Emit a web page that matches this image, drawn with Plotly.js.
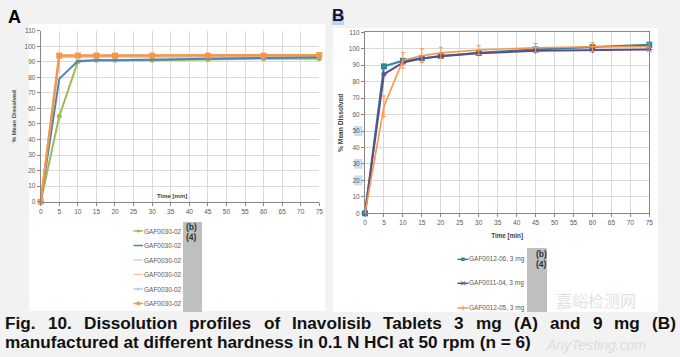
<!DOCTYPE html>
<html><head><meta charset="utf-8">
<script src="https://cdn.plot.ly/plotly-3.0.1.min.js"></script>
<style>html,body{margin:0;padding:0;background:#f2f2f2;}#chart{width:680px;height:357px;}</style>
</head><body><div id="chart"></div>
<script>
// ---------- data ----------
const timeMin = [0, 5, 10, 15, 20, 30, 45, 60, 75];
const xTickVals = [0,5,10,15,20,25,30,35,40,45,50,55,60,65,70,75];
const yTickVals = [0,10,20,30,40,50,60,70,80,90,100,110];

// Panel A (3 mg) – six lots, all labelled GAF0030-02
const namesA = ['GAF0030-02','GAF0030-02','GAF0030-02','GAF0030-02','GAF0030-02','GAF0030-02'];
const a1Green     = [0, 55, 90, 91, 91, 91, 91.5, 92, 92];
const a2Blue      = [0, 79, 90.5, 91, 91, 91.5, 92, 92.5, 93];
const a3LightCyan = [0, 93, 93, 93, 93, 93, 93, 93, 93];
const a4LightOrg  = [0, 93.3, 93.5, 93.5, 93.5, 93.5, 93.5, 93.5, 93.5];
const a5LightBlue = [0, 93.5, 93.5, 93.5, 93.5, 93.5, 93.5, 93.5, 93.5];
const a6Orange    = [0, 94, 94, 94, 94, 94, 94, 94, 94.3];

// Panel B (9 mg)
const namesB = ['GAF0012-06, 3 mg', 'GAF0011-04, 3 mg', 'GAF0012-05, 3 mg'];
const b1Teal      = [0, 89.3, 92.7, 94.3, 95.6, 97.5, 99.6, 101, 102.5];
const b2Purple    = [0, 84.6, 91.6, 94, 95.5, 97.2, 98.8, 99.2, 99.5];
const b3Orange    = [0, 65, 93, 95.8, 97.5, 99.2, 100.6, 101.2, 101.2];
const b3OrangeErr = [0, 6.3, 4.8, 4.2, 3.4, 2.6, 2.6, 2.6, 2];

const captionLine1 = 'Fig. 10. Dissolution profiles of Inavolisib Tablets 3 mg (A) and 9 mg (B)';
const captionLine2 = 'manufactured at different hardness in 0.1 N HCl at 50 rpm (n = 6)';

// ---------- styling ----------
const W = 680, H = 357;
const px = v => v / W;
const py = v => 1 - v / H;
const SANS = '"Liberation Sans", Arial, sans-serif';
const GRID = '#d9d9d9', AXIS = '#868686', TICKTXT = '#595959', TITLE = '#404040';

const colA = ['#9bbb59', '#4f81bd', '#b7dde8', '#fac9a4', '#b9cde5', '#f79646'];
const valsA = [a1Green, a2Blue, a3LightCyan, a4LightOrg, a5LightBlue, a6Orange];
const symA = ['circle', null, null, null, 'circle', 'square'];
const colB = ['#31869b', '#5f4b8b', '#f79646'];

const traces = [];
[2, 3, 4, 0, 1, 5].forEach(i => {
  traces.push({
    x: timeMin, y: valsA[i], xaxis: 'x', yaxis: 'y', name: namesA[i],
    type: 'scatter', mode: symA[i] ? 'lines+markers' : 'lines',
    line: { color: colA[i], width: i === 5 ? 2.4 : 2 },
    marker: { symbol: symA[i] || 'circle', size: i === 5 ? 6 : 5, color: colA[i] },
    cliponaxis: false, showlegend: false, hoverinfo: 'x+y+name'
  });
});
traces.push({
  x: timeMin, y: b1Teal, xaxis: 'x2', yaxis: 'y2', name: namesB[0], type: 'scatter',
  mode: 'lines+markers', line: { color: colB[0], width: 2 },
  marker: { symbol: 'square', size: 6, color: colB[0] }, cliponaxis: false, showlegend: false
});
traces.push({
  x: timeMin, y: b2Purple, xaxis: 'x2', yaxis: 'y2', name: namesB[1], type: 'scatter',
  mode: 'lines+markers', line: { color: colB[1], width: 2 },
  marker: { symbol: 'asterisk-open', size: 5, color: colB[1], line: { color: colB[1], width: 1 } },
  cliponaxis: false, showlegend: false
});
traces.push({
  x: timeMin, y: b3Orange, xaxis: 'x2', yaxis: 'y2', name: namesB[2], type: 'scatter',
  mode: 'lines', line: { color: colB[2], width: 1.6 },
  error_y: { type: 'data', array: b3OrangeErr, visible: true, color: colB[2], thickness: 1, width: 2 },
  cliponaxis: false, showlegend: false
});

function axisBase(extra) {
  return Object.assign({
    showgrid: true, gridcolor: GRID, gridwidth: 1, zeroline: false,
    showline: true, linecolor: AXIS, linewidth: 1,
    ticks: 'outside', ticklen: 3, tickcolor: AXIS, tickwidth: 1,
    tickfont: { family: SANS, size: 6.5, color: TICKTXT },
    fixedrange: true, automargin: false
  }, extra);
}

// ---------- shapes ----------
const shapes = [];
const rect = (x0, y0, x1, y1, fill, layer) => shapes.push({
  type: 'rect', xref: 'paper', yref: 'paper', x0: px(x0), x1: px(x1), y0: py(y1), y1: py(y0),
  fillcolor: fill, line: { width: 0 }, layer: layer || 'below'
});
rect(29, 24, 325, 311, '#ffffff');
rect(333, 28, 658, 312, '#ffffff');
rect(183, 222, 202, 312, '#bfbfbf', 'above');
rect(527, 248, 547, 312, '#bfbfbf', 'above');
rect(332, 13, 344, 25, '#bcd4f2', 'below');
// selection highlights on some B tick labels
[50, 30, 20].forEach(v => shapes.push({
  type: 'rect', xref: 'paper', yref: 'y2', x0: px(354), x1: px(362.5), y0: v - 3, y1: v + 3,
  fillcolor: '#c9ddf6', line: { width: 0 }, layer: 'below'
}));

const annotations = [];
const ann = (x, y, text, font, extra) => annotations.push(Object.assign({
  xref: 'paper', yref: 'paper', x: px(x), y: py(y), text, showarrow: false,
  font, xanchor: 'center', yanchor: 'middle', borderpad: 0, borderwidth: 0
}, extra || {}));

// legend A
const legAy = [231, 245.5, 260, 274.5, 289, 303.5];
legAy.forEach((yy, i) => {
  shapes.push({ type: 'line', xref: 'paper', yref: 'paper', x0: px(133.5), x1: px(143), y0: py(yy), y1: py(yy),
    line: { color: colA[i], width: 1.5 }, layer: 'above' });
  if (symA[i] === 'circle') shapes.push({ type: 'circle', xref: 'paper', yref: 'paper',
    x0: px(136.8), x1: px(139.8), y0: py(yy + 1.5), y1: py(yy - 1.5), fillcolor: colA[i], line: { width: 0 }, layer: 'above' });
  if (symA[i] === 'square') shapes.push({ type: 'rect', xref: 'paper', yref: 'paper',
    x0: px(136.6), x1: px(140), y0: py(yy + 1.7), y1: py(yy - 1.7), fillcolor: colA[i], line: { width: 0 }, layer: 'above' });
  ann(143.5, yy, namesA[i], { family: SANS, size: 6.5, color: TICKTXT }, { xanchor: 'left' });
});
// legend B
const legBy = [259.3, 283.3, 308];
legBy.forEach((yy, i) => {
  shapes.push({ type: 'line', xref: 'paper', yref: 'paper', x0: px(457.5), x1: px(468.5), y0: py(yy), y1: py(yy),
    line: { color: colB[i], width: 1.5 }, layer: 'above' });
  if (i === 0) shapes.push({ type: 'rect', xref: 'paper', yref: 'paper', x0: px(461.2), x1: px(464.8),
    y0: py(yy + 1.8), y1: py(yy - 1.8), fillcolor: colB[0], line: { width: 0 }, layer: 'above' });
  if (i === 1) {
    shapes.push({ type: 'line', xref: 'paper', yref: 'paper', x0: px(461), x1: px(465), y0: py(yy + 2), y1: py(yy - 2), line: { color: colB[1], width: 1 }, layer: 'above' });
    shapes.push({ type: 'line', xref: 'paper', yref: 'paper', x0: px(461), x1: px(465), y0: py(yy - 2), y1: py(yy + 2), line: { color: colB[1], width: 1 }, layer: 'above' });
  }
  if (i === 2) shapes.push({ type: 'line', xref: 'paper', yref: 'paper', x0: px(463), x1: px(463), y0: py(yy + 2.5), y1: py(yy - 2.5), line: { color: colB[2], width: 1 }, layer: 'above' });
  ann(469, yy, namesB[i], { family: SANS, size: 6.5, color: TICKTXT }, { xanchor: 'left' });
});
// (b)(4) redaction labels
ann(191, 226.5, '<b>(b)</b>', { family: SANS, size: 8.5, color: '#333333' });
ann(191, 237, '<b>(4)</b>', { family: SANS, size: 8.5, color: '#333333' });
ann(541, 253.5, '<b>(b)</b>', { family: SANS, size: 8.5, color: '#333333' });
ann(541, 264, '<b>(4)</b>', { family: SANS, size: 8.5, color: '#333333' });

// panel letters
ann(14.5, 16.5, '<b>A</b>', { family: SANS, size: 18, color: '#000000' });
ann(338.2, 16, '<b>B</b>', { family: SANS, size: 17, color: '#111133' });
// Panel A x-title sits inside the plot
ann(172, 195.5, '<b>Time [min]</b>', { family: SANS, size: 6, color: TITLE });

// caption (justified first line)
const ctx = document.createElement('canvas').getContext('2d');
const capFam = '"Liberation Sans", Arial, sans-serif';
const meas = (t, s) => { ctx.font = 'bold ' + s + 'px ' + capFam; return ctx.measureText(t).width; };
let capSize = 526 / (meas(captionLine2, 100) / 100);
capSize = Math.max(13, Math.min(18, capSize));
const words = captionLine1.split(' ');
const wW = words.map(w => meas(w, capSize));
const gap = (671 - wW.reduce((a, b) => a + b, 0)) / (words.length - 1);
let cx = 5;
words.forEach((w, i) => {
  ann(cx, 323, '<b>' + w + '</b>', { family: capFam, size: capSize, color: '#111111' }, { xanchor: 'left' });
  cx += wW[i] + gap;
});
ann(5, 342, '<b>' + captionLine2 + '</b>', { family: capFam, size: capSize, color: '#111111' }, { xanchor: 'left' });

// faint watermark
ann(596, 300, '嘉峪检测网', { family: '"Noto Sans CJK SC", sans-serif', size: 16, color: 'rgba(200,200,200,0.55)' });
ann(596, 344.5, '<i>AnyTesting.com</i>', { family: SANS, size: 14, color: 'rgba(205,205,205,0.6)' });

const layout = {
  width: W, height: H, margin: { l: 0, r: 0, t: 0, b: 0 },
  paper_bgcolor: '#f2f2f2', plot_bgcolor: '#ffffff', showlegend: false,
  xaxis: axisBase({ domain: [px(40.7), px(319.3)], range: [0, 75], tickvals: xTickVals, anchor: 'y' }),
  yaxis: axisBase({ domain: [py(201.7), py(30.7)], range: [0, 110], tickvals: yTickVals, anchor: 'x',
    title: { text: '<b>% Mean Dissolved</b>', font: { family: SANS, size: 6, color: TITLE }, standoff: 7 } }),
  xaxis2: axisBase({ domain: [px(365), px(649.3)], range: [0, 75], tickvals: xTickVals, anchor: 'y2', mirror: true,
    title: { text: '<b>Time [min]</b>', font: { family: SANS, size: 6.3, color: TITLE }, standoff: 8 } }),
  yaxis2: axisBase({ domain: [py(213.3), py(32.3)], range: [0, 110], tickvals: yTickVals, anchor: 'x2', mirror: true,
    title: { text: '<b>% Mean Dissolved</b>', font: { family: SANS, size: 6.7, color: TITLE }, standoff: 4 } }),
  shapes, annotations
};
Plotly.newPlot('chart', traces, layout, { staticPlot: true, displayModeBar: false });
</script></body></html>
